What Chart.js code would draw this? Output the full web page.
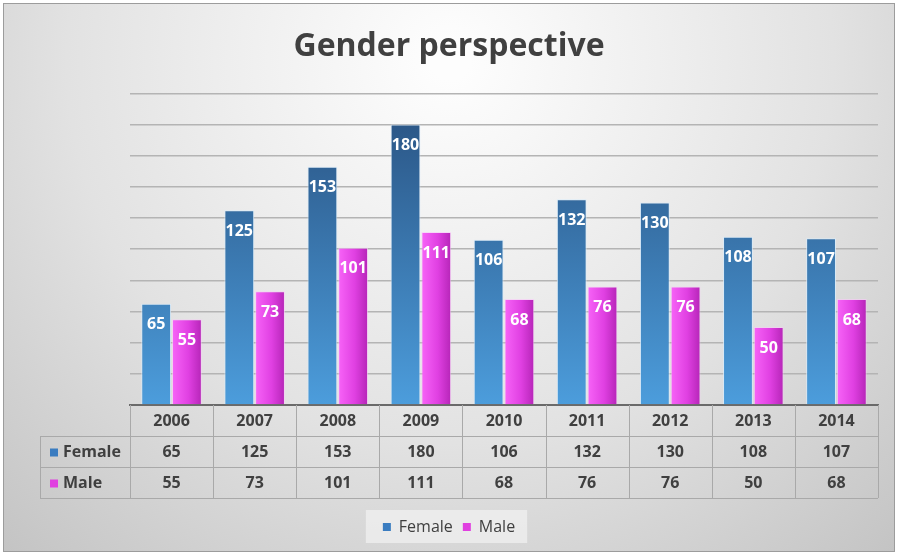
<!DOCTYPE html>
<html>
<head>
<meta charset="utf-8">
<script src="https://cdn.jsdelivr.net/npm/chart.js@4"></script>
<style>
  html, body { margin: 0; padding: 0; background: #fff; }
  #wrap { width: 898px; height: 555px; }
</style>
</head>
<body>
<div id="wrap"><canvas id="chart"></canvas></div>
<script>
const years = ['2006', '2007', '2008', '2009', '2010', '2011', '2012', '2013', '2014'];
const female = [65, 125, 153, 180, 106, 132, 130, 108, 107];
const male = [55, 73, 101, 111, 68, 76, 76, 50, 68];
const seriesNames = ['Female', 'Male'];

const CAT_PCT = 0.74;
const FONT = "'Open Sans', sans-serif";
const TEXT = '#404040';

function femaleFill(ctx) {
  const area = ctx.chart.chartArea;
  if (!area) return '#3a78b8';
  const g = ctx.chart.ctx.createLinearGradient(0, area.top, 0, area.bottom);
  g.addColorStop(0, '#28507f');
  g.addColorStop(1, '#4c9ddc');
  return g;
}

function maleFill(ctx) {
  const chart = ctx.chart;
  const x = chart.scales.x;
  if (!chart.chartArea || !x || ctx.dataIndex === undefined) return '#e040e0';
  const cat = x.width / years.length;
  const center = x.getPixelForValue(ctx.dataIndex);
  const w = cat * CAT_PCT / 2;
  const g = chart.ctx.createLinearGradient(center, 0, center + w, 0);
  g.addColorStop(0, '#f865f8');
  g.addColorStop(0.55, '#e040e2');
  g.addColorStop(1, '#b424b6');
  return g;
}

// panel background and border
const panel = {
  id: 'panel',
  beforeDraw(chart) {
    const c = chart.ctx;
    c.save();
    const g = c.createRadialGradient(450, 60, 20, 450, 60, 680);
    g.addColorStop(0, '#fdfdfd');
    g.addColorStop(0.55, '#e2e2e2');
    g.addColorStop(1, '#c2c2c2');
    c.fillStyle = g;
    c.fillRect(3, 3, 892, 549);
    c.strokeStyle = '#9c9c9c';
    c.lineWidth = 1;
    c.strokeRect(3.5, 3.5, 891, 548);
    // legend box
    const lg = chart.legend;
    if (lg && lg.legendHitBoxes && lg.legendHitBoxes.length) {
      const hb = lg.legendHitBoxes;
      const l = hb[0].left - 17, r = hb[hb.length - 1].left + hb[hb.length - 1].width + 12;
      c.fillStyle = 'rgba(240,240,240,0.75)';
      c.fillRect(l, lg.top + 1, r - l, lg.height - 3);
    }
    c.restore();
  }
};

// value labels inside the bars
const barLabels = {
  id: 'barLabels',
  afterDatasetsDraw(chart) {
    const c = chart.ctx;
    c.save();
    c.font = 'bold 16px ' + FONT;
    c.fillStyle = '#ffffff';
    c.textAlign = 'center';
    c.textBaseline = 'middle';
    chart.data.datasets.forEach((ds, di) => {
      chart.getDatasetMeta(di).data.forEach((bar, i) => {
        c.fillText(String(ds.data[i]), bar.x, bar.y + 21);
      });
    });
    c.restore();
  }
};

// data table under the axis
const dataTable = {
  id: 'dataTable',
  afterDraw(chart) {
    const c = chart.ctx;
    const x = chart.scales.x;
    const area = chart.chartArea;
    const top = area.bottom;
    const rowH = 31;
    const left = area.left, right = area.right;
    const labelLeft = 40;
    const cat = (right - left) / years.length;
    c.save();
    c.strokeStyle = '#a9a9a9';
    c.lineWidth = 1;
    c.beginPath();
    c.moveTo(labelLeft, top + rowH + 0.5); c.lineTo(right, top + rowH + 0.5);
    c.moveTo(labelLeft, top + rowH * 2 + 0.5); c.lineTo(right, top + rowH * 2 + 0.5);
    c.moveTo(labelLeft, top + rowH * 3 + 0.5); c.lineTo(right, top + rowH * 3 + 0.5);
    for (let i = 0; i <= years.length; i++) {
      const px = Math.round(left + i * cat) + 0.5;
      c.moveTo(px, top); c.lineTo(px, top + rowH * 3);
    }
    c.moveTo(labelLeft + 0.5, top + rowH); c.lineTo(labelLeft + 0.5, top + rowH * 3);
    c.stroke();

    c.font = 'bold 16px ' + FONT;
    c.fillStyle = TEXT;
    c.textAlign = 'center';
    c.textBaseline = 'middle';
    years.forEach((y, i) => {
      const cx = x.getPixelForValue(i);
      c.fillText(y, cx, top + rowH / 2 + 1);
      chart.data.datasets.forEach((ds, di) => {
        c.fillText(String(ds.data[i]), cx, top + rowH * (di + 1.5) + 1);
      });
    });
    const markers = ['#3a7cc0', '#e040e0'];
    c.textAlign = 'left';
    chart.data.datasets.forEach((ds, di) => {
      const cy = top + rowH * (di + 1.5);
      c.fillStyle = markers[di];
      c.fillRect(50, cy - 3, 8, 8);
      c.fillStyle = TEXT;
      c.fillText(ds.label, 63, cy + 1);
    });
    c.restore();
  }
};

new Chart(document.getElementById('chart'), {
  type: 'bar',
  data: {
    labels: years,
    datasets: [
      {
        label: seriesNames[0],
        data: female,
        backgroundColor: femaleFill,
        borderColor: 'rgba(215,235,250,0.85)',
        borderWidth: 1,
        categoryPercentage: CAT_PCT,
        barPercentage: 0.97
      },
      {
        label: seriesNames[1],
        data: male,
        backgroundColor: maleFill,
        borderColor: 'rgba(250,200,250,0.6)',
        borderWidth: 1,
        categoryPercentage: CAT_PCT,
        barPercentage: 0.97
      }
    ]
  },
  options: {
    responsive: true,
    maintainAspectRatio: false,
    animation: false,
    layout: { padding: { left: 20, right: 20, top: 18, bottom: 10 } },
    scales: {
      x: {
        grid: { display: false },
        ticks: { display: false },
        border: { color: '#6a6a6a', width: 2 },
        afterFit(scale) { scale.height = 104; }
      },
      y: {
        min: 0,
        max: 200,
        ticks: { stepSize: 20, display: false },
        border: { display: false },
        grid: { color: '#b4b4b4', lineWidth: 1.5, drawTicks: false },
        afterFit(scale) { scale.width = 110; }
      }
    },
    plugins: {
      title: {
        display: true,
        text: 'Gender perspective',
        color: TEXT,
        font: { family: FONT, size: 32, weight: 'bold' },
        padding: { top: 10, bottom: 27 }
      },
      legend: {
        position: 'bottom',
        labels: {
          boxWidth: 8,
          boxHeight: 8,
          color: TEXT,
          font: { family: FONT, size: 16 },
          padding: 10,
          generateLabels(chart) {
            const cols = ['#3a7cc0', '#e040e0'];
            return chart.data.datasets.map((ds, i) => ({
              text: ds.label,
              fillStyle: cols[i],
              strokeStyle: cols[i],
              lineWidth: 0,
              datasetIndex: i,
              fontColor: TEXT
            }));
          }
        }
      },
      tooltip: { enabled: false }
    }
  },
  plugins: [panel, barLabels, dataTable]
});
</script>
</body>
</html>
